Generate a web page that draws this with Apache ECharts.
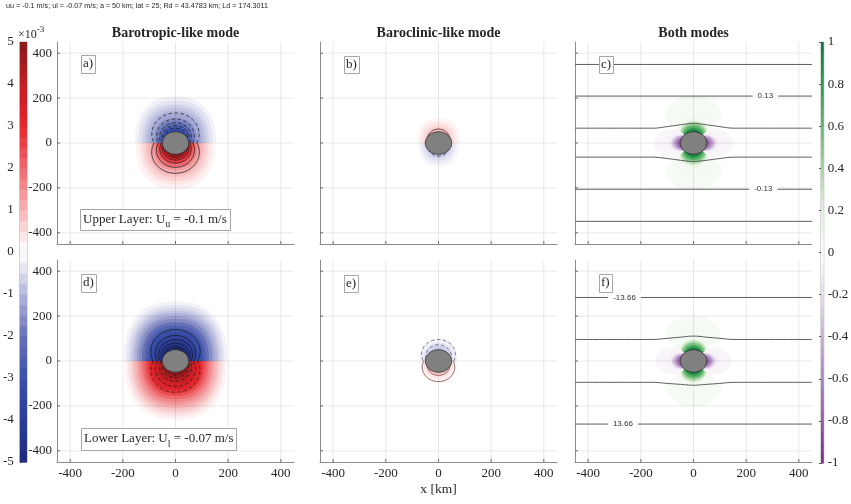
<!DOCTYPE html>
<html>
<head>
<meta charset="utf-8">
<script src="https://cdn.jsdelivr.net/npm/echarts@6.0.0/dist/echarts.min.js"></script>
<style>
html, body { margin: 0; padding: 0; background: #ffffff; }
#chart { width: 851px; height: 504px; }
</style>
</head>
<body>
<div id="chart"></div>
<script>
// ---------- axes and colour bars ----------
const axisTicks = [-400, -200, 0, 200, 400];
const leftBarTicks = [-5, -4, -3, -2, -1, 0, 1, 2, 3, 4, 5];
const rightBarTicks = [-1, -0.8, -0.6, -0.4, -0.2, 0, 0.2, 0.4, 0.6, 0.8, 1];
const islandRadius = 50; // km

// ---------- (a) upper layer, barotropic-like mode ----------
// contour level (x1e-3) and how far each contour reaches from the centre along y (km)
const aBlueLevel = [-0.2, -0.4, -0.6, -0.8, -1.0, -1.2, -1.5, -1.8, -2.2, -2.6, -3.0, -3.3];
const aBlueReach = [208, 190, 172, 158, 144, 130, 112, 100, 88, 78, 68, 60];
const aRedLevel = [0.2, 0.4, 0.6, 0.8, 1.0, 1.3, 1.6, 1.9, 2.2, 2.5, 2.8, 3.1, 3.5, 3.9, 4.3];
const aRedReach = [204, 184, 168, 152, 140, 124, 114, 104, 96, 89, 82, 75, 68, 62, 57];
const aDashReach = [134, 107, 90, 77, 66];
const aSolidReach = [135, 108, 89, 76, 66, 58];

// ---------- (b) upper layer, baroclinic-like mode ----------
const bRedLevel = [0.15, 0.3, 0.45, 0.6, 0.75, 0.9];
const bRedReach = [111, 96, 84, 74, 66, 59];
const bBlueLevel = [-0.15, -0.3, -0.45, -0.6, -0.75];
const bBlueReach = [104, 90, 78, 68, 60];
const bSolidReach = [62];
const bDashReach = [58];

// ---------- (d) lower layer, barotropic-like mode ----------
const dBlueLevel = [-0.2, -0.4, -0.6, -0.8, -1.0, -1.3, -1.6, -2.0, -2.4, -2.8, -3.2, -3.6, -4.0, -4.4, -4.8];
const dBlueReach = [266, 250, 236, 224, 214, 200, 188, 172, 158, 146, 134, 116, 98, 82, 66];
const dRedLevel = [0.2, 0.4, 0.6, 0.8, 1.0, 1.3, 1.6, 2.0, 2.4, 2.8, 3.2, 3.6, 4.0, 4.4, 4.8];
const dRedReach = [262, 246, 232, 220, 210, 197, 185, 170, 156, 144, 130, 114, 98, 82, 66];
const dSolidReach = [140, 114, 96, 80, 66, 57];
const dDashReach = [139, 114, 90, 74, 62];

// ---------- (e) lower layer, baroclinic-like mode ----------
const eBlueLevel = [-0.2, -0.4, -0.6, -0.8];
const eBlueReach = [96, 80, 68, 58];
const eRedLevel = [0.2, 0.4, 0.6, 0.8];
const eRedReach = [92, 77, 66, 57];
const eDashReach = [96, 72];
const eSolidReach = [92, 64];

// ---------- (c) upper layer, both modes ----------
const cGreenLevel = [0.05, 0.06, 0.09, 0.3, 0.5, 0.65, 0.8, 0.95];
const cGreenReach = [213, 160, 112, 97, 86, 76, 67, 59];
const cPurpleLevel = [-0.05, -0.06, -0.09, -0.3, -0.5, -0.65, -0.8];
const cPurpleReach = [150, 118, 96, 84, 74, 65, 58];
const cStraightY = [350, 209, -206, -349];
const cBowX = [-450, -150, -100, -50, -20, 0, 20, 50, 100, 150, 450];
const cBowUpperY = [66, 66, 73, 81, 86, 88, 86, 81, 73, 66, 66];
const cBowLowerY = [-63, -63, -69, -77, -81, -83, -81, -77, -69, -63, -63];
const cLabelText = ['0.13', '-0.13'];
const cLabelX = [273, 265];
const cLabelY = [209, -206];

// ---------- (f) lower layer, both modes ----------
const fGreenLevel = [0.05, 0.06, 0.09, 0.3, 0.5, 0.65, 0.8, 0.95];
const fGreenReach = [205, 155, 108, 92, 82, 73, 65, 58];
const fPurpleLevel = [-0.05, -0.06, -0.09, -0.3, -0.5, -0.65, -0.8];
const fPurpleReach = [145, 115, 94, 82, 72, 64, 57];
const fStraightY = [283, -281];
const fBowX = [-450, -150, -100, -50, -20, 0, 20, 50, 100, 150, 450];
const fBowUpperY = [96, 96, 101, 106, 110, 111, 110, 106, 101, 96, 96];
const fBowLowerY = [-95, -95, -100, -104, -107, -108, -107, -104, -100, -95, -95];
const fLabelText = ['-13.66', '13.66'];
const fLabelX = [-262, -268];
const fLabelY = [283, -281];

// ---------- layout ----------
const XMIN = -450, XMAX = 450;
const panelLeft = [57, 320, 575];
const panelTop = [42, 260];
const PW = 237, PH = 202;
const SERIF = 'Liberation Serif';
const SANS = 'Liberation Sans';
const INK = '#262626';

// ---------- colour maps ----------
function makeCmap(stops) {
  const rgb = stops.map(([v, h]) => [v, parseInt(h.slice(1, 3), 16), parseInt(h.slice(3, 5), 16), parseInt(h.slice(5, 7), 16)]);
  const fmt = c => 'rgb(' + Math.round(c[0]) + ',' + Math.round(c[1]) + ',' + Math.round(c[2]) + ')';
  return function (v) {
    if (v <= rgb[0][0]) return fmt(rgb[0].slice(1));
    for (let i = 1; i < rgb.length; i++) {
      if (v <= rgb[i][0]) {
        const p = rgb[i - 1], q = rgb[i], t = (v - p[0]) / (q[0] - p[0]);
        return fmt([1, 2, 3].map(k => p[k] + t * (q[k] - p[k])));
      }
    }
    return fmt(rgb[rgb.length - 1].slice(1));
  };
}
const redBlue = makeCmap([
  [-5, '#1e2a7b'], [-4, '#2a3c97'], [-3, '#3a51ab'], [-2, '#6670b6'], [-1, '#b2b5da'],
  [-0.35, '#e8e8f3'], [0, '#ffffff'], [0.35, '#fde8e8'], [1, '#f6b3b5'], [2, '#ee6a6f'],
  [3, '#e5262c'], [4, '#c41d23'], [5, '#8a191c']
]);
const greenPurple = makeCmap([
  [-1, '#7a2e92'], [-0.8, '#9158a8'], [-0.6, '#ab82bf'], [-0.4, '#c9b0d6'], [-0.2, '#e6dbeb'],
  [0, '#ffffff'], [0.2, '#dff0da'], [0.4, '#a6d6a0'], [0.6, '#64b873'], [0.8, '#2f9b52'], [1, '#137a3b']
]);

// ---------- contour geometry (km) ----------
// c: centre offset along the lobe axis, a/b: semi-axes along/across, p: superellipse exponent
const DIRS = { up: [0, 1], down: [0, -1], left: [-1, 0], right: [1, 0] };
const dipoleFill = { c: 0, a: 1, b: 0.74, p: 2.4, wedge: false };
const dipoleLine = { c: 0.3, a: 0.7, b: 0.67, p: 2, wedge: false };
const quadVert = { c: 0.5, a: 0.5, b: 0.52, p: 2, wedge: true };
const quadHoriz = { c: 0.5, a: 0.5, b: 0.42, p: 2, wedge: true };

function clipHalf(poly, a, b) {
  const out = [];
  for (let i = 0; i < poly.length; i++) {
    const P = poly[i], Q = poly[(i + 1) % poly.length];
    const fp = a * P[0] + b * P[1], fq = a * Q[0] + b * Q[1];
    if (fp >= 0) out.push(P);
    if ((fp >= 0) !== (fq >= 0)) {
      const t = fp / (fp - fq);
      out.push([P[0] + t * (Q[0] - P[0]), P[1] + t * (Q[1] - P[1])]);
    }
  }
  return out;
}
function toXY(pts, dir) {
  const [dx, dy] = DIRS[dir];
  return pts.map(([u, w]) => [dx * u - dy * w, dy * u + dx * w]);
}
function spow(v, e) { return Math.sign(v) * Math.pow(Math.abs(v), e); }
function superPoint(R, s, t) {
  const e = 2 / s.p;
  return [s.c * R + s.a * R * spow(Math.cos(t), e), s.b * R * spow(Math.sin(t), e)];
}
function lobeOutline(R, dir, s) {
  let pts = [];
  for (let k = 0; k < 160; k++) pts.push(superPoint(R, s, 2 * Math.PI * k / 160));
  pts = clipHalf(pts, 1, 0);
  if (s.wedge) { pts = clipHalf(pts, 1, -1); pts = clipHalf(pts, 1, 1); }
  return toXY(pts, dir);
}
function lobeArc(R, dir, s) {
  // the part of the outline on the lobe side of the dividing line
  const T = Math.acos(Math.max(-1, -s.c / s.a));
  const pts = [];
  for (let k = 0; k <= 100; k++) pts.push(superPoint(R, s, -T + 2 * T * k / 100));
  return toXY(pts, dir);
}

// ---------- series builders ----------
function fillSeries(g, levels, reach, dir, shape, cmap) {
  return {
    type: 'custom', xAxisIndex: g, yAxisIndex: g, clip: true, silent: true, z: 1,
    data: levels.map((v, i) => [v, reach[i]]),
    renderItem(params, api) {
      const pts = lobeOutline(api.value(1), dir, shape).map(p => api.coord(p));
      return { type: 'polygon', shape: { points: pts }, style: { fill: cmap(api.value(0)) } };
    }
  };
}
function contourSeries(g, reach, dir, color, dashed, width) {
  return {
    type: 'custom', xAxisIndex: g, yAxisIndex: g, clip: true, silent: true, z: 2,
    data: reach.map(r => [r, 0]),
    renderItem(params, api) {
      const pts = lobeArc(api.value(0), dir, dipoleLine).map(p => api.coord(p));
      return { type: 'polyline', shape: { points: pts },
        style: { stroke: color, fill: null, lineWidth: width, lineDash: dashed ? [3.5, 2.5] : null } };
    }
  };
}
function gridSeries(g) {
  return {
    type: 'custom', xAxisIndex: g, yAxisIndex: g, clip: true, silent: true, z: 3,
    data: axisTicks.map(v => [v, v]),
    renderItem(params, api) {
      const v = api.value(0);
      const b = api.coord([v, XMIN]), t = api.coord([v, XMAX]);
      const l = api.coord([XMIN, v]), r = api.coord([XMAX, v]);
      const grid = 'rgba(0,0,0,0.09)', tick = '#6e6e6e';
      return { type: 'group', children: [
        { type: 'line', shape: { x1: b[0], y1: b[1], x2: t[0], y2: t[1] }, style: { stroke: grid, lineWidth: 1 } },
        { type: 'line', shape: { x1: l[0], y1: l[1], x2: r[0], y2: r[1] }, style: { stroke: grid, lineWidth: 1 } },
        { type: 'line', shape: { x1: b[0], y1: b[1], x2: b[0], y2: b[1] - 3 }, style: { stroke: tick, lineWidth: 1 } },
        { type: 'line', shape: { x1: l[0], y1: l[1], x2: l[0] + 3, y2: l[1] }, style: { stroke: tick, lineWidth: 1 } }
      ] };
    }
  };
}
function islandSeries(g) {
  return {
    type: 'custom', xAxisIndex: g, yAxisIndex: g, clip: true, silent: true, z: 4,
    data: [[0, 0]],
    renderItem(params, api) {
      const pts = [];
      for (let k = 0; k < 96; k++) {
        const t = 2 * Math.PI * k / 96;
        pts.push(api.coord([api.value(0) + islandRadius * Math.cos(t), api.value(1) + islandRadius * Math.sin(t)]));
      }
      return { type: 'polygon', shape: { points: pts }, style: { fill: '#808080', stroke: '#2b2b2b', lineWidth: 0.8 } };
    }
  };
}
function straightSeries(g, ys) {
  return {
    type: 'custom', xAxisIndex: g, yAxisIndex: g, clip: true, silent: true, z: 5,
    data: ys.map(y => [0, y]),
    renderItem(params, api) {
      const p0 = api.coord([XMIN, api.value(1)]), p1 = api.coord([XMAX, api.value(1)]);
      return { type: 'line', shape: { x1: p0[0], y1: p0[1], x2: p1[0], y2: p1[1] }, style: { stroke: '#5e5e5e', lineWidth: 1 } };
    }
  };
}
function bowSeries(g, xs, ys) {
  return {
    type: 'line', xAxisIndex: g, yAxisIndex: g, silent: true, z: 5, animation: false,
    data: xs.map((x, i) => [x, ys[i]]), symbol: 'none', showSymbol: false, smooth: 0.3,
    lineStyle: { color: '#5e5e5e', width: 1 }
  };
}
function labelSeries(g, xs, ys, texts) {
  return {
    type: 'custom', xAxisIndex: g, yAxisIndex: g, clip: true, silent: true, z: 6,
    data: xs.map((x, i) => [x, ys[i]]),
    renderItem(params, api) {
      const p = api.coord([api.value(0), api.value(1)]);
      return { type: 'text', x: p[0], y: p[1], style: {
        text: texts[params.dataIndex], fill: '#333333', fontSize: 8, fontFamily: SANS,
        align: 'center', verticalAlign: 'middle', backgroundColor: '#ffffff', padding: [1, 5] } };
    }
  };
}
function colorbarSeries(g, lo, hi, n, cmap) {
  const step = (hi - lo) / n, bands = [];
  for (let i = 0; i < n; i++) bands.push([lo + i * step, lo + (i + 1) * step]);
  return {
    type: 'custom', xAxisIndex: g, yAxisIndex: g, silent: true, z: 1,
    data: bands,
    renderItem(params, api) {
      const top = api.coord([0, api.value(1)]), bot = api.coord([1, api.value(0)]);
      return { type: 'rect', shape: { x: top[0], y: top[1], width: bot[0] - top[0], height: bot[1] - top[1] + 0.6 },
        style: { fill: cmap((api.value(0) + api.value(1)) / 2) } };
    }
  };
}

// ---------- grids and axes ----------
const grids = [], xAxes = [], yAxes = [];
for (let row = 0; row < 2; row++) {
  for (let col = 0; col < 3; col++) {
    const g = grids.length;
    grids.push({ left: panelLeft[col], top: panelTop[row], width: PW, height: PH, containLabel: false });
    const labelFmt = v => (axisTicks.indexOf(Math.round(v)) >= 0 ? String(Math.round(v)) : '');
    const line = { show: true, onZero: false, lineStyle: { color: '#8c8c8c', width: 1 } };
    xAxes.push({ gridIndex: g, type: 'value', min: XMIN, max: XMAX, interval: 50,
      axisLine: line, axisTick: { show: false }, splitLine: { show: false },
      axisLabel: { show: row === 1, formatter: labelFmt, margin: 5, color: INK, fontFamily: SERIF, fontSize: 13 } });
    yAxes.push({ gridIndex: g, type: 'value', min: XMIN, max: XMAX, interval: 50,
      axisLine: line, axisTick: { show: false }, splitLine: { show: false },
      axisLabel: { show: col === 0, formatter: labelFmt, margin: 5, color: INK, fontFamily: SERIF, fontSize: 13 } });
  }
}
// left colour bar (x1e-3)
grids.push({ left: 17, top: 42, width: 10, height: 420, show: true, borderColor: '#b4b4b4', borderWidth: 1, backgroundColor: 'transparent' });
xAxes.push({ gridIndex: 6, type: 'value', min: 0, max: 1, show: false });
yAxes.push({ gridIndex: 6, type: 'value', min: -5, max: 5, interval: 1, position: 'left',
  axisLine: { show: false }, splitLine: { show: false },
  axisTick: { show: true, inside: true, length: 2, lineStyle: { color: '#555555' } },
  axisLabel: { margin: 6, color: INK, fontFamily: SERIF, fontSize: 13,
    formatter: v => (leftBarTicks.indexOf(Math.round(v)) >= 0 ? String(Math.round(v)) : '') } });
// right colour bar
grids.push({ left: 821, top: 42, width: 11, height: 421, show: true, borderColor: '#b4b4b4', borderWidth: 1, backgroundColor: 'transparent' });
xAxes.push({ gridIndex: 7, type: 'value', min: 0, max: 1, show: false });
yAxes.push({ gridIndex: 7, type: 'value', min: -1, max: 1, interval: 0.2, position: 'right',
  axisLine: { show: false }, splitLine: { show: false },
  axisTick: { show: true, inside: true, length: 2, lineStyle: { color: '#555555' } },
  axisLabel: { margin: 4, color: INK, fontFamily: SERIF, fontSize: 13,
    formatter: v => String(+(+v).toFixed(1)) } });

// ---------- series ----------
const series = [
  // (a)
  fillSeries(0, aBlueLevel, aBlueReach, 'up', dipoleFill, redBlue),
  fillSeries(0, aRedLevel, aRedReach, 'down', dipoleFill, redBlue),
  contourSeries(0, aDashReach, 'up', '#1c1c1c', true, 0.8),
  contourSeries(0, aSolidReach, 'down', '#1c1c1c', false, 0.8),
  gridSeries(0), islandSeries(0),
  // (b)
  fillSeries(1, bRedLevel, bRedReach, 'up', dipoleFill, redBlue),
  fillSeries(1, bBlueLevel, bBlueReach, 'down', dipoleFill, redBlue),
  contourSeries(1, bSolidReach, 'up', '#3a2020', false, 0.8),
  contourSeries(1, bDashReach, 'down', '#20203a', true, 0.8),
  gridSeries(1), islandSeries(1),
  // (c)
  fillSeries(2, cGreenLevel, cGreenReach, 'up', quadVert, greenPurple),
  fillSeries(2, cGreenLevel, cGreenReach, 'down', quadVert, greenPurple),
  fillSeries(2, cPurpleLevel, cPurpleReach, 'left', quadHoriz, greenPurple),
  fillSeries(2, cPurpleLevel, cPurpleReach, 'right', quadHoriz, greenPurple),
  gridSeries(2), islandSeries(2),
  straightSeries(2, cStraightY), bowSeries(2, cBowX, cBowUpperY), bowSeries(2, cBowX, cBowLowerY),
  labelSeries(2, cLabelX, cLabelY, cLabelText),
  // (d)
  fillSeries(3, dBlueLevel, dBlueReach, 'up', dipoleFill, redBlue),
  fillSeries(3, dRedLevel, dRedReach, 'down', dipoleFill, redBlue),
  contourSeries(3, dSolidReach, 'up', '#1c1c1c', false, 0.8),
  contourSeries(3, dDashReach, 'down', '#1c1c1c', true, 0.8),
  gridSeries(3), islandSeries(3),
  // (e)
  fillSeries(4, eBlueLevel, eBlueReach, 'up', dipoleFill, redBlue),
  fillSeries(4, eRedLevel, eRedReach, 'down', dipoleFill, redBlue),
  contourSeries(4, eDashReach, 'up', '#4a4a6e', true, 0.8),
  contourSeries(4, eSolidReach, 'down', '#6e3a3a', false, 0.8),
  gridSeries(4), islandSeries(4),
  // (f)
  fillSeries(5, fGreenLevel, fGreenReach, 'up', quadVert, greenPurple),
  fillSeries(5, fGreenLevel, fGreenReach, 'down', quadVert, greenPurple),
  fillSeries(5, fPurpleLevel, fPurpleReach, 'left', quadHoriz, greenPurple),
  fillSeries(5, fPurpleLevel, fPurpleReach, 'right', quadHoriz, greenPurple),
  gridSeries(5), islandSeries(5),
  straightSeries(5, fStraightY), bowSeries(5, fBowX, fBowUpperY), bowSeries(5, fBowX, fBowLowerY),
  labelSeries(5, fLabelX, fLabelY, fLabelText),
  // colour bars
  colorbarSeries(6, -5, 5, 40, redBlue),
  colorbarSeries(7, -1, 1, 40, greenPurple)
];

// ---------- text annotations ----------
const measureCtx = document.createElement('canvas').getContext('2d');
function textWidth(str, size, family) {
  measureCtx.font = size + 'px "' + family + '"';
  return measureCtx.measureText(str).width;
}
function boxedLabel(x, y, h, pad, parts) {
  const els = [];
  let cx = x + pad;
  parts.forEach(p => {
    els.push({ type: 'text', x: cx, y: y + h / 2 + (p.dy || 0), z: 101,
      style: { text: p.text, fontSize: p.size, fontFamily: SERIF, fill: INK, align: 'left', verticalAlign: 'middle' } });
    cx += textWidth(p.text, p.size, SERIF);
  });
  const w = Math.round(cx + pad - x);
  els.unshift({ type: 'rect', z: 100, shape: { x: x + 0.5, y: y + 0.5, width: w, height: h },
    style: { fill: '#ffffff', stroke: '#a6a6a6', lineWidth: 1 } });
  return els;
}
function plainText(x, y, text, size, family, weight, align) {
  return { type: 'text', x, y, z: 101, style: { text, fontSize: size, fontFamily: family, fontWeight: weight || 'normal',
    fill: INK, align: align || 'center', verticalAlign: 'middle' } };
}

const graphic = [
  plainText(6, 6, 'uu = -0.1 m/s; ul = -0.07 m/s; a = 50 km; lat = 25; Rd = 43.4783 km; Ld = 174.3011', 7.2, SANS, 'normal', 'left'),
  plainText(175.5, 33, 'Barotropic-like mode', 14, SERIF, 'bold'),
  plainText(438.5, 33, 'Baroclinic-like mode', 14, SERIF, 'bold'),
  plainText(693.5, 33, 'Both modes', 14, SERIF, 'bold'),
  plainText(438.5, 489, 'x [km]', 13.5, SERIF),
  plainText(18, 35, '\u00d710', 12, SERIF, 'normal', 'left'),
  plainText(18 + textWidth('\u00d710', 12, SERIF), 30, '-3', 9, SERIF, 'normal', 'left'),
  ...boxedLabel(81, 55, 18, 2, [{ text: 'a)', size: 13 }]),
  ...boxedLabel(344, 56, 17, 2, [{ text: 'b)', size: 13 }]),
  ...boxedLabel(599, 56, 17, 2, [{ text: 'c)', size: 13 }]),
  ...boxedLabel(81, 274, 18, 2, [{ text: 'd)', size: 13 }]),
  ...boxedLabel(344, 275, 17, 2, [{ text: 'e)', size: 13 }]),
  ...boxedLabel(599, 274, 18, 2, [{ text: 'f)', size: 13 }]),
  ...boxedLabel(80, 209, 21, 3, [{ text: 'Upper Layer: U', size: 13 }, { text: 'u', size: 10, dy: 5 }, { text: ' = -0.1 m/s', size: 13 }]),
  ...boxedLabel(81, 428, 22, 3, [{ text: 'Lower Layer: U', size: 13 }, { text: 'l', size: 10, dy: 5 }, { text: ' = -0.07 m/s', size: 13 }])
];

const chart = echarts.init(document.getElementById('chart'), null, { renderer: 'canvas' });
chart.setOption({
  animation: false,
  backgroundColor: '#ffffff',
  grid: grids,
  xAxis: xAxes,
  yAxis: yAxes,
  series,
  graphic
});
</script>
</body>
</html>
